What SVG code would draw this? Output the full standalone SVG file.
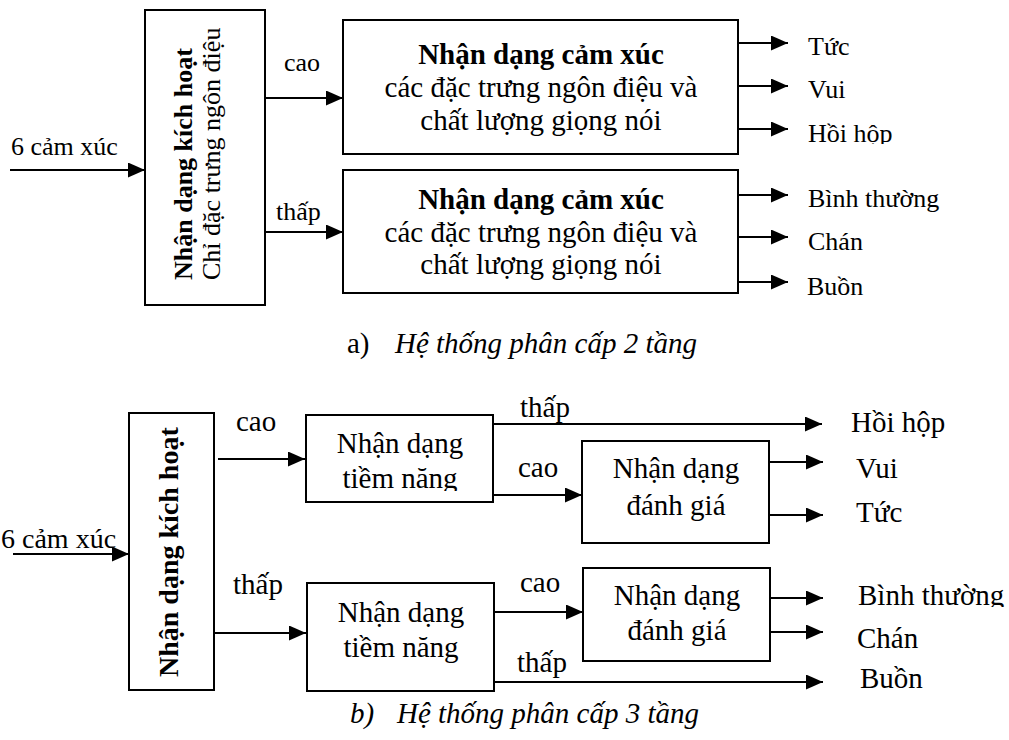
<svg xmlns="http://www.w3.org/2000/svg" width="1009" height="740" viewBox="0 0 1009 740">
  <style>
    text { font-family: "Liberation Serif", "Times New Roman", serif; fill: #000; }
    .box { fill: #fff; stroke: #000; stroke-width: 2; }
    .wire { fill: none; stroke: #000; stroke-width: 2; marker-end: url(#head); }
    .s26 { font-size: 26px; }
    .s29 { font-size: 29px; }
    .b { font-weight: bold; }
    .it { font-style: italic; }
    .mid { text-anchor: middle; }
  </style>
  <defs>
    <marker id="head" markerUnits="userSpaceOnUse" markerWidth="17" markerHeight="15" refX="17" refY="7.5" orient="auto">
      <path d="M0,0 L17,7.5 L0,15 Z" fill="#000"/>
    </marker>
    <clipPath id="cutA"><rect x="790" y="100" width="200" height="44"/></clipPath>
    <clipPath id="cutB"><rect x="300" y="460" width="200" height="31"/></clipPath>
    <clipPath id="cutC"><rect x="840" y="570" width="169" height="37"/></clipPath>
  </defs>

  <!-- connectors -->
  <g id="connectors">
    <!-- (a) two-level -->
    <line class="wire" x1="10" y1="170" x2="145" y2="170"/>
    <line class="wire" x1="265" y1="98" x2="343" y2="98"/>
    <line class="wire" x1="265" y1="232" x2="343" y2="232"/>
    <line class="wire" x1="738" y1="43" x2="788" y2="43"/>
    <line class="wire" x1="738" y1="86" x2="788" y2="86"/>
    <line class="wire" x1="738" y1="129" x2="788" y2="129"/>
    <line class="wire" x1="738" y1="195" x2="788" y2="195"/>
    <line class="wire" x1="738" y1="237" x2="788" y2="237"/>
    <line class="wire" x1="738" y1="282" x2="788" y2="282"/>
    <!-- (b) three-level -->
    <line class="wire" x1="13" y1="554" x2="129" y2="554"/>
    <line class="wire" x1="218" y1="459" x2="305" y2="459"/>
    <line class="wire" x1="215" y1="633" x2="306" y2="633"/>
    <line class="wire" x1="493" y1="424" x2="822" y2="424"/>
    <line class="wire" x1="493" y1="495" x2="582" y2="495"/>
    <line class="wire" x1="769" y1="462" x2="823" y2="462"/>
    <line class="wire" x1="769" y1="515" x2="823" y2="515"/>
    <line class="wire" x1="494" y1="612" x2="583" y2="612"/>
    <line class="wire" x1="494" y1="682" x2="823" y2="682"/>
    <line class="wire" x1="770" y1="598" x2="823" y2="598"/>
    <line class="wire" x1="770" y1="632" x2="823" y2="632"/>
  </g>

  <!-- (a) nodes -->
  <g id="a-activation">
    <rect class="box" x="145" y="10" width="120" height="295"/>
    <text class="s26 b" transform="translate(192,280) rotate(-90)">Nhận dạng kích hoạt</text>
    <text class="s26" transform="translate(220,280) rotate(-90)">Chỉ đặc trưng ngôn điệu</text>
  </g>
  <g id="a-emotion-high">
    <rect class="box" x="343" y="20" width="395" height="134"/>
    <text class="s29 b mid" x="541" y="64">Nhận dạng cảm xúc</text>
    <text class="s29 mid" x="541" y="97">các đặc trưng ngôn điệu và</text>
    <text class="s29 mid" x="541" y="130">chất lượng giọng nói</text>
  </g>
  <g id="a-emotion-low">
    <rect class="box" x="343" y="170" width="395" height="123"/>
    <text class="s29 b mid" x="541" y="209">Nhận dạng cảm xúc</text>
    <text class="s29 mid" x="541" y="242">các đặc trưng ngôn điệu và</text>
    <text class="s29 mid" x="541" y="274">chất lượng giọng nói</text>
  </g>
  <g id="a-labels" class="s26">
    <text x="11" y="155">6 cảm xúc</text>
    <text x="284" y="71">cao</text>
    <text x="276" y="220">thấp</text>
    <text x="808" y="55">Tức</text>
    <text x="808" y="98">Vui</text>
    <text x="808" y="142" clip-path="url(#cutA)">Hồi hộp</text>
    <text x="808" y="207">Bình thường</text>
    <text x="808" y="250">Chán</text>
    <text x="807" y="295">Buồn</text>
  </g>
  <g id="a-caption">
    <text class="s29" x="347" y="353">a)</text>
    <text class="s29 it" x="395" y="353">Hệ thống phân cấp 2 tầng</text>
  </g>

  <!-- (b) nodes -->
  <g id="b-activation">
    <rect class="box" x="129" y="413" width="85" height="277"/>
    <text class="b" style="font-size:28px" transform="translate(178,677) rotate(-90)">Nhận dạng kích hoạt</text>
  </g>
  <g id="b-potency-high">
    <rect class="box" x="306" y="415" width="187" height="87"/>
    <text class="s29 mid" x="400" y="453">Nhận dạng</text>
    <text class="s29 mid" x="400" y="488" clip-path="url(#cutB)">tiềm năng</text>
  </g>
  <g id="b-appraisal-high">
    <rect class="box" x="582" y="441" width="187" height="102"/>
    <text class="s29 mid" x="676" y="478">Nhận dạng</text>
    <text class="s29 mid" x="676" y="515">đánh giá</text>
  </g>
  <g id="b-potency-low">
    <rect class="box" x="307" y="583" width="187" height="108"/>
    <text class="s29 mid" x="401" y="622">Nhận dạng</text>
    <text class="s29 mid" x="401" y="657">tiềm năng</text>
  </g>
  <g id="b-appraisal-low">
    <rect class="box" x="583" y="568" width="187" height="93"/>
    <text class="s29 mid" x="677" y="605">Nhận dạng</text>
    <text class="s29 mid" x="677" y="640">đánh giá</text>
  </g>
  <g id="b-labels" class="s29">
    <text x="1" y="548" style="font-size:28px">6 cảm xúc</text>
    <text x="236" y="431">cao</text>
    <text x="233" y="594">thấp</text>
    <text x="520" y="417">thấp</text>
    <text x="518" y="477">cao</text>
    <text x="520" y="592">cao</text>
    <text x="517" y="672">thấp</text>
    <text x="851" y="432">Hồi hộp</text>
    <text x="856" y="478">Vui</text>
    <text x="856" y="522">Tức</text>
    <text x="858" y="605" clip-path="url(#cutC)">Bình thường</text>
    <text x="857" y="648">Chán</text>
    <text x="860" y="688">Buồn</text>
  </g>
  <g id="b-caption">
    <text class="s29 it" x="350" y="723">b)</text>
    <text class="s29 it" x="397" y="723">Hệ thống phân cấp 3 tầng</text>
  </g>
</svg>
